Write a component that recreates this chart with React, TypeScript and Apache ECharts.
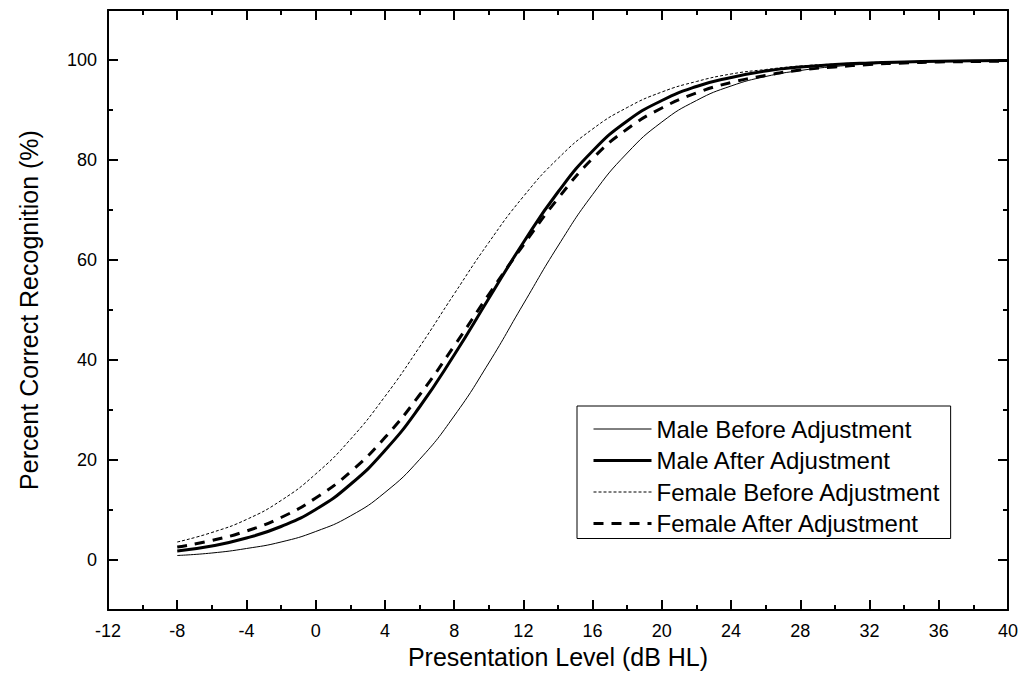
import React, { useEffect, useRef } from "react";
import * as echarts from "echarts";

const xLevels = [-8, -6, -4, -2, 0, 2, 4, 6, 8, 10, 12, 14, 16, 18, 20, 22, 24, 26, 28, 30, 32, 34, 36, 38, 40];
const maleBefore = [0.9, 1.4, 2.3, 3.6, 5.7, 8.8, 13.5, 20.1, 28.8, 39.4, 51.2, 62.8, 73.1, 81.4, 87.6, 91.9, 94.8, 96.7, 97.9, 98.7, 99.2, 99.5, 99.7, 99.8, 99.9];
const maleAfter = [1.8, 2.8, 4.4, 6.7, 10.1, 15.1, 21.9, 30.6, 41.0, 52.3, 63.5, 73.6, 81.8, 87.8, 91.9, 94.7, 96.5, 97.8, 98.6, 99.1, 99.4, 99.6, 99.75, 99.84, 99.9];
const femaleBefore = [3.6, 5.5, 8.1, 11.9, 17.2, 24.1, 32.7, 42.6, 53.2, 63.5, 72.7, 80.3, 86.2, 90.5, 93.6, 95.7, 97.2, 98.1, 98.8, 99.2, 99.5, 99.65, 99.8, 99.85, 99.9];
const femaleAfter = [2.6, 3.9, 5.8, 8.5, 12.4, 17.6, 24.5, 33.0, 42.8, 53.1, 63.0, 72.3, 80.3, 86.2, 90.4, 93.4, 95.5, 96.9, 98.0, 98.6, 99.1, 99.4, 99.6, 99.7, 99.8];

const seriesNames = ["Male Before Adjustment", "Male After Adjustment", "Female Before Adjustment", "Female After Adjustment"];
const yMajorTicks = [0, 20, 40, 60, 80, 100];

const FONT = "'Liberation Sans', Arial, Helvetica, sans-serif";

function pairs(ys: number[]) {
  return xLevels.map((x, i) => [x, ys[i]]);
}

export default function App() {
  const ref = useRef<HTMLDivElement>(null);
  useEffect(() => {
    if (!ref.current) return;
    const chart = echarts.init(ref.current, undefined, { renderer: "svg" });
    const axisLine = { show: true, onZero: false, lineStyle: { color: "#000", width: 2 } };
    const xBase = {
      type: "value" as const,
      min: -12,
      max: 40,
      interval: 4,
      axisLine,
      axisTick: { show: true, inside: true, length: 10, lineStyle: { color: "#000", width: 2 } },
      minorTick: { show: true, splitNumber: 2, length: 5, lineStyle: { color: "#000", width: 2 } },
      splitLine: { show: false },
      minorSplitLine: { show: false },
    };
    const yMajor = {
      type: "value" as const,
      min: -10,
      max: 110,
      axisLine,
      axisTick: { show: true, inside: true, length: 10, customValues: yMajorTicks, lineStyle: { color: "#000", width: 2 } },
      splitLine: { show: false },
    };
    const yMinor = {
      type: "value" as const,
      min: -10,
      max: 110,
      interval: 20,
      axisLine: { show: false, onZero: false },
      axisTick: { show: true, inside: true, length: 5, lineStyle: { color: "#000", width: 2 } },
      axisLabel: { show: false },
      splitLine: { show: false },
    };
    const styles = [
      { width: 1, type: "solid" as any },
      { width: 3, type: "solid" as any },
      { width: 1, type: [3, 2] as any },
      { width: 3, type: [10, 8] as any },
    ];
    const hiddenSymbol = { color: "rgba(0,0,0,0)", borderWidth: 0, opacity: 0 };
    const option: any = {
      animation: false,
      backgroundColor: "#fff",
      textStyle: { fontFamily: FONT },
      grid: { left: 108, top: 10, right: 19, bottom: 78, containLabel: false, outerBoundsMode: "none" },
      legend: {
        show: true,
        orient: "vertical",
        left: 577,
        top: 406,
        data: seriesNames.map((name, i) => ({
          name,
          itemStyle: hiddenSymbol,
          lineStyle: { color: "#000", width: styles[i].width, type: styles[i].type },
        })),
        itemWidth: 58,
        itemHeight: 14,
        itemGap: 7.5,
        borderColor: "#000",
        borderWidth: 1,
        padding: [11, 10, 3, 15],
        backgroundColor: "#fff",
        textStyle: { fontSize: 24, color: "#000", fontFamily: FONT, lineHeight: 24 },
      },
      xAxis: [
        {
          ...xBase,
          position: "bottom",
          axisLabel: { show: true, color: "#000", fontSize: 18, margin: 12, fontFamily: FONT },
          name: "Presentation Level (dB HL)",
          nameLocation: "middle",
          nameGap: 34,
          nameTextStyle: { fontSize: 25, color: "#000", fontFamily: FONT },
        },
        {
          ...xBase,
          position: "top",
          axisLabel: { show: false },
        },
      ],
      yAxis: [
        {
          ...yMajor,
          position: "left",
          axisLabel: { show: true, customValues: yMajorTicks, color: "#000", fontSize: 18, margin: 11, fontFamily: FONT },
          name: "Percent Correct Recognition (%)",
          nameLocation: "middle",
          nameGap: 67,
          nameTextStyle: { fontSize: 25, color: "#000", fontFamily: FONT },
        },
        { ...yMinor, position: "left" },
        { ...yMajor, position: "right", axisLabel: { show: false } },
        { ...yMinor, position: "right" },
      ],
      series: [maleBefore, maleAfter, femaleBefore, femaleAfter].map((vals, i) => ({
        name: seriesNames[i],
        type: "line",
        smooth: true,
        symbol: "none",
        data: pairs(vals),
        color: "#000",
        lineStyle: { color: "#000", width: styles[i].width, type: styles[i].type },
      })),
    };
    chart.setOption(option);
    return () => chart.dispose();
  }, []);
  return (
    <div
      ref={ref}
      style={{ position: "fixed", left: 0, top: 0, width: 1027, height: 688, background: "#fff" }}
    />
  );
}
